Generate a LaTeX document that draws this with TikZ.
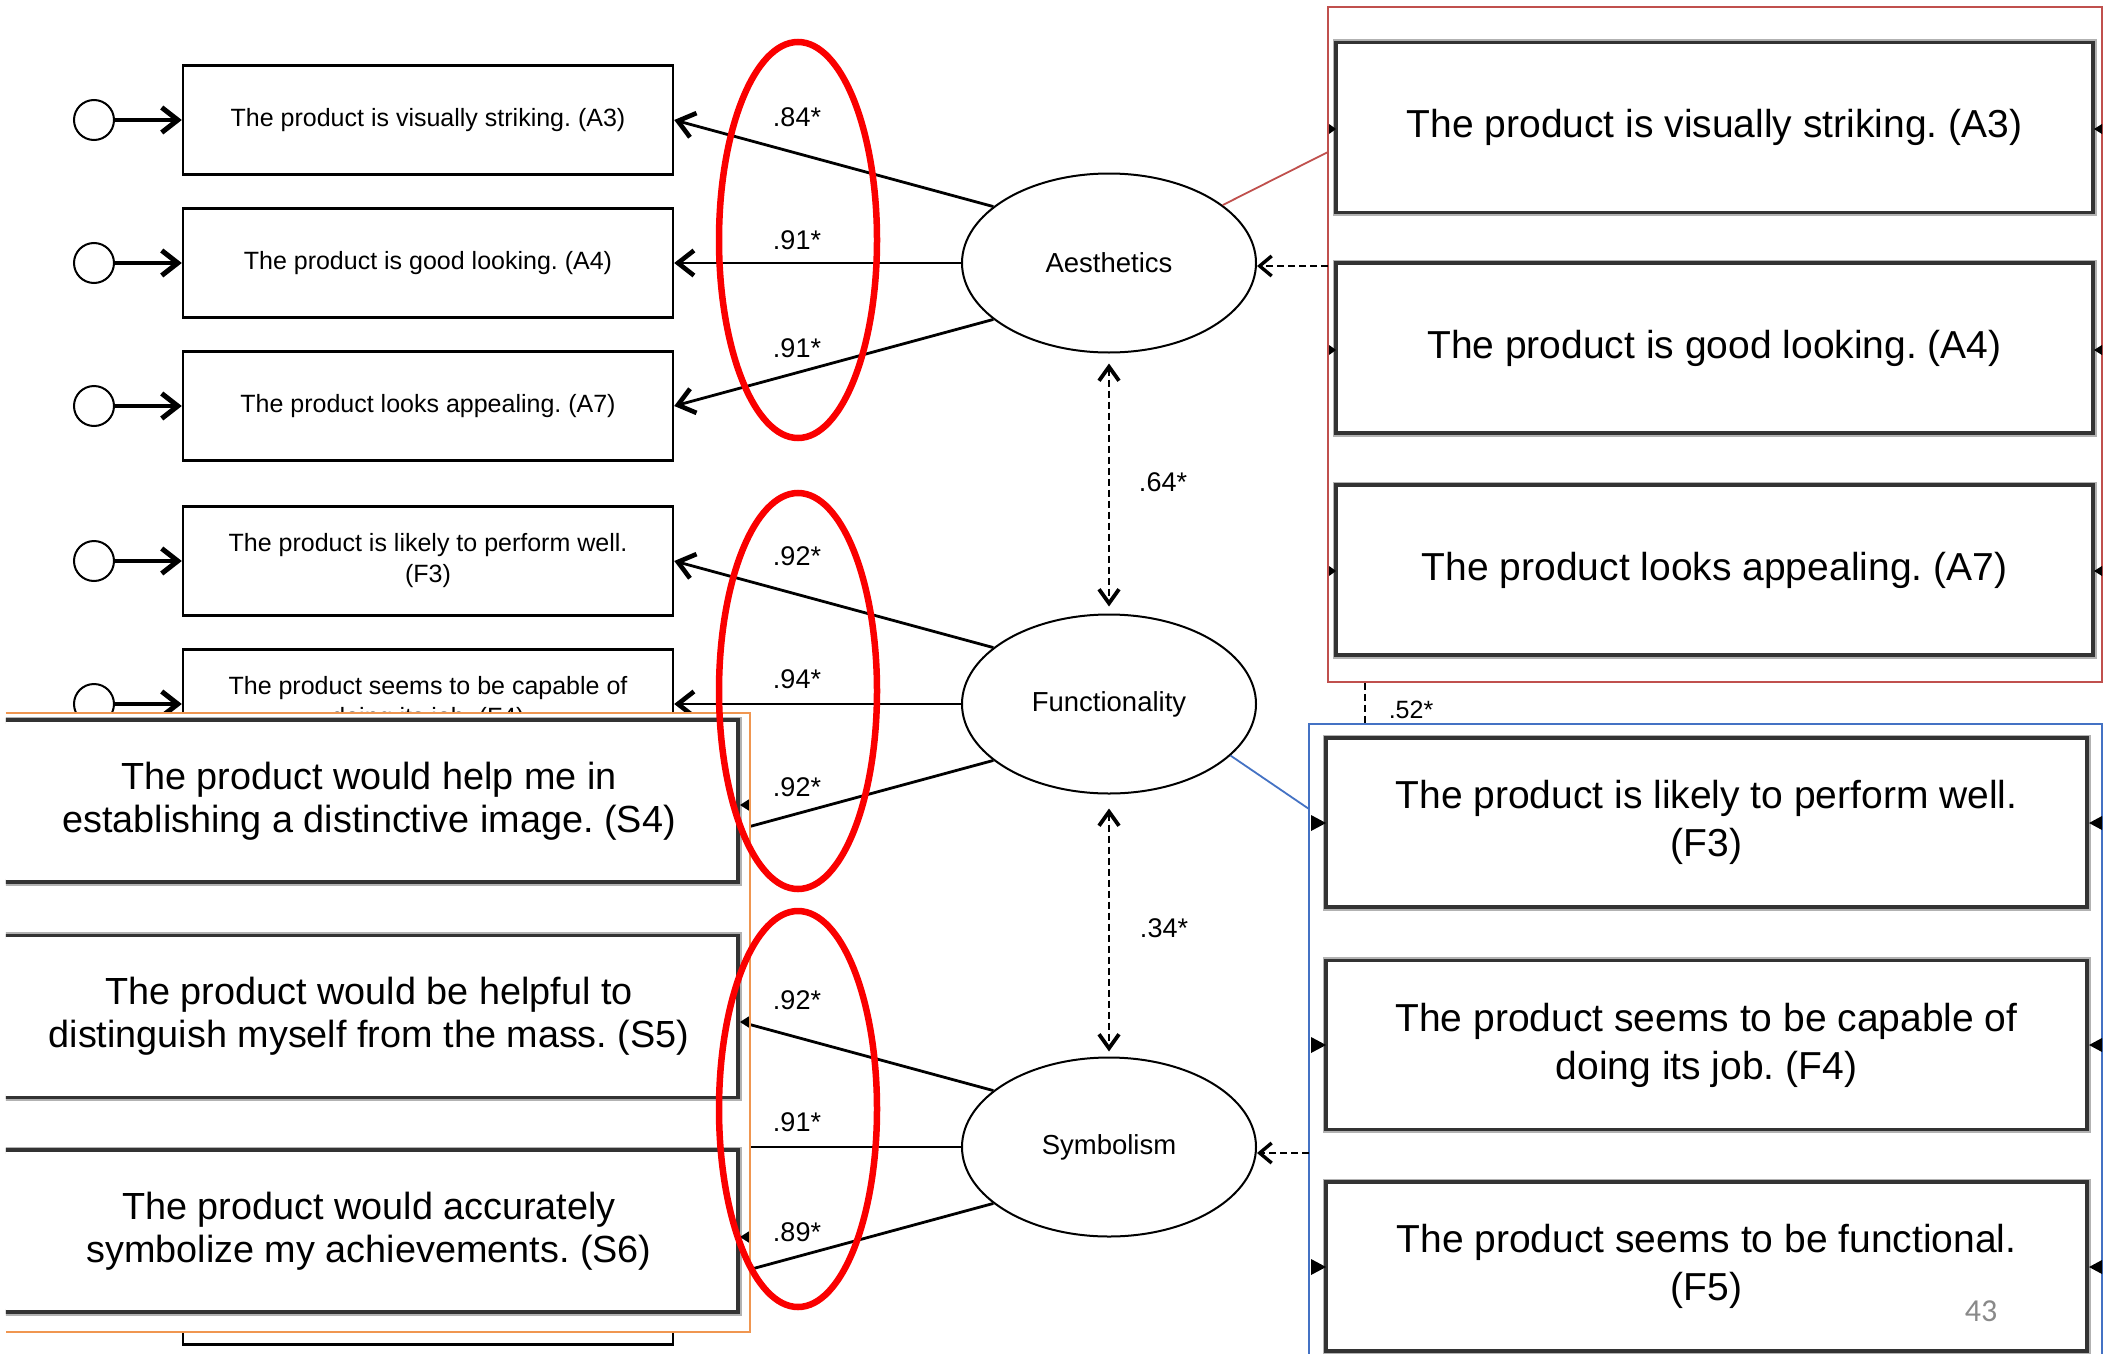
\documentclass[tikz,border=0pt]{standalone}
\usepackage{fontspec}
\setmainfont{Liberation Sans}
\newfontfamily\slidefont{Carlito}
\usetikzlibrary{arrows.meta,shapes.geometric}
\definecolor{hilite}{RGB}{250,0,0}
\definecolor{zoomred}{RGB}{192,80,77}
\definecolor{zoomblue}{RGB}{68,114,196}
\definecolor{zoomorange}{RGB}{240,150,80}
\definecolor{pagegray}{RGB}{137,137,137}
\frenchspacing

\begin{document}
\begin{tikzpicture}[x=1pt,y=-1pt,
  item/.style={rectangle, draw=black, line width=2.4pt, fill=white, minimum width=490pt,
    minimum height=109pt, inner sep=0pt, align=center, font=\fontsize{25}{31}\selectfont},
  latent/.style={ellipse, draw=black, line width=2pt, fill=white, minimum width=294pt,
    minimum height=179pt, inner sep=0pt, font=\fontsize{27.5}{33}\selectfont},
  err/.style={circle, draw=black, line width=2pt, minimum size=40pt, inner sep=0pt},
  errpath/.style={line width=3.2pt, -{Straight Barb[length=16pt,width=25pt,line width=5pt]}},
  load/.style={line width=2.8pt, -{Straight Barb[length=16pt,width=25pt,line width=4.6pt]}},
  coef/.style={font=\fontsize{27}{27}\selectfont, inner sep=0pt},
  dashln/.style={line width=2pt, dash pattern=on 7pt off 4pt},
  corr/.style={dashln, {Straight Barb[length=14pt,width=20pt,line width=3.8pt]}-{Straight Barb[length=14pt,width=20pt,line width=3.8pt]}},
  feed/.style={dashln, -{Straight Barb[length=12pt,width=20pt,line width=3.4pt]}},
  shot/.style={rectangle, draw=black!80, line width=3.2pt, fill=white, inner sep=0pt,
    align=center, preaction={draw=black!30, line width=7pt}},
  bigA/.style={shot, minimum width=757pt, minimum height=170pt, font=\fontsize{39}{47}\selectfont},
  bigF/.style={shot, minimum width=761pt, minimum height=169pt, font=\fontsize{39}{48}\selectfont},
  bigS/.style={shot, minimum width=738pt, minimum height=162pt, font=\fontsize{37.8}{43}\selectfont},
  panel/.style={rectangle, fill=white, inner sep=0pt},
  ring/.style={draw=hilite, line width=6.5pt},
]
% canvas
\fill[white] (0,0) rectangle (2109,1354);
\path[use as bounding box] (0,0) rectangle (2109,1354);

% ---- measurement model: indicators ----
\node[item] (A3) at (428,120) {The product is visually striking. (A3)};
\node[item] (A4) at (428,263) {The product is good looking. (A4)};
\node[item] (A7) at (428,406) {The product looks appealing. (A7)};
\node[item] (F3) at (428,561) {The product is likely to perform well.\\(F3)};
\node[item] (F4) at (428,704) {The product seems to be capable of\\doing its job. (F4)};
\node[item] (F5) at (428,847) {};
\node[item] (S4) at (428,1004) {};
\node[item] (S5) at (428,1147) {};
\node[item] (S6) at (428,1290) {};

% error terms
\foreach \n/\y in {A3/120,A4/263,A7/406,F3/561,F4/704}{
  \node[err] (e\n) at (94,\y) {};
  \draw[errpath] (e\n) -- (\n);
}

% ---- latent factors ----
\node[latent] (Aes)  at (1109,263)  {Aesthetics};
\node[latent] (Func) at (1109,704)  {Functionality};
\node[latent] (Sym)  at (1109,1147) {Symbolism};

% loadings
\draw[load] (Aes.154) -- (A3.east);
\draw[load] (Aes) -- (A4);
\draw[load] (Aes.206) -- (A7.east);
\draw[load] (Func.154) -- (F3.east);
\draw[load] (Func) -- (F4);
\draw[load] (Func.206) -- (F5.east);
\draw[load] (Sym.154) -- (S4.east);
\draw[load] (Sym) -- (S5);
\draw[load] (Sym.206) -- (S6.east);

\node[coef] (lA3) at (797,117)  {.84*};
\node[coef] (lA4) at (797,240)  {.91*};
\node[coef] (lA7) at (797,348)  {.91*};
\node[coef] (lF3) at (797,556)  {.92*};
\node[coef] (lF4) at (797,679)  {.94*};
\node[coef] (lF5) at (797,787)  {.92*};
\node[coef] (lS4) at (797,1000) {.92*};
\node[coef] (lS5) at (797,1122) {.91*};
\node[coef] (lS6) at (797,1232) {.89*};

% factor correlations
\draw[corr, shorten <=10pt, shorten >=7pt] (Aes.south) -- (Func.north);
\draw[corr, shorten <=14pt, shorten >=5pt] (Func.south) -- (Sym.north);
\node[coef] (rAF) at (1163,482) {.64*};
\node[coef] (rFS) at (1164,928) {.34*};

% ---- enlarged view of the aesthetics items ----
\node[panel, draw=zoomred, line width=1.8pt, minimum width=774pt, minimum height=675pt] (rpanel) at (1715,344.5) {};
\node[bigA] (bA3) at (1714.5,127.5) {The product is visually striking. (A3)};
\node[bigA] (bA4) at (1714.5,348)   {The product is good looking. (A4)};
\node[bigA] (bA7) at (1714.5,570)   {The product looks appealing. (A7)};
\foreach \y in {129,350,571}{
  \fill (1329,\y-5) -- (1336,\y) -- (1329,\y+5) -- cycle;
  \fill (2102,\y-5) -- (2094,\y) -- (2102,\y+5) -- cycle;
}

% ---- enlarged view of the functionality items ----
\node[panel, draw=zoomblue, line width=1.8pt, minimum width=793pt, minimum height=636pt] (bpanel) at (1705.5,1042) {};
\node[bigF] (bF3) at (1706.5,822.5) {The product is likely to perform well.\\(F3)};
\node[bigF] (bF4) at (1706.5,1045)  {The product seems to be capable of\\doing its job. (F4)};
\node[bigF] (bF5) at (1706.5,1266.5){The product seems to be functional.\\(F5)};
\foreach \y in {823,1045,1267}{
  \fill (1311,\y-8) -- (1326,\y) -- (1311,\y+8) -- cycle;
  \fill (2102,\y-7) -- (2089,\y) -- (2102,\y+7) -- cycle;
}

% ---- enlarged view of the symbolism items ----
\node[panel, minimum width=744pt, minimum height=619pt] (opanel) at (378,1022.5) {};
\begin{scope}
  \clip (opanel.south west) rectangle (opanel.north east);
  \node[bigS] (bS4) at (369,801)    {The product would help me in\\establishing a distinctive image. (S4)};
  \node[bigS] (bS5) at (369,1016.5) {The product would be helpful to\\distinguish myself from the mass. (S5)};
  \node[bigS] (bS6) at (369,1231)   {The product would accurately\\symbolize my achievements. (S6)};
  \foreach \y in {805,1022,1237}{
    \fill (751,\y-7) -- (740,\y) -- (751,\y+7) -- cycle;
  }
\end{scope}
\draw[zoomorange, line width=1.8pt] (opanel.north west) -- (opanel.north east)
  -- (opanel.south east) -- (opanel.south west);

% call-out lines and links between the enlarged views
\coordinate (rin) at (1328,152);
\coordinate (bin) at (1309,809);
\draw[zoomred, line width=1.8pt] (Aes.27) -- (rin);
\draw[zoomblue, line width=1.8pt] (Func.-23) -- (bin);
\coordinate (rout) at (1328,266);
\draw[feed] (rout) -- (Aes.east |- rout);
\coordinate (bout) at (1309,1153);
\draw[feed] (bout) -- (Sym.east |- bout);
\draw[dashln, line width=1.6pt] ([xshift=38pt]rpanel.south west) -- ([xshift=57pt]bpanel.north west);
\node[coef, font=\fontsize{25}{25}\selectfont] (rAF2) at (1411,710) {.52*};

% highlighted loading columns
\draw[ring] (798,240)  ellipse [x radius=79pt, y radius=198pt];
\draw[ring] (798,691)  ellipse [x radius=79pt, y radius=198pt];
\draw[ring] (798,1109) ellipse [x radius=79pt, y radius=198pt];

% slide number
\node[font=\slidefont\fontsize{32}{32}\selectfont, text=pagegray, inner sep=0pt] (pg) at (1981,1311) {43};
\end{tikzpicture}
\end{document}
